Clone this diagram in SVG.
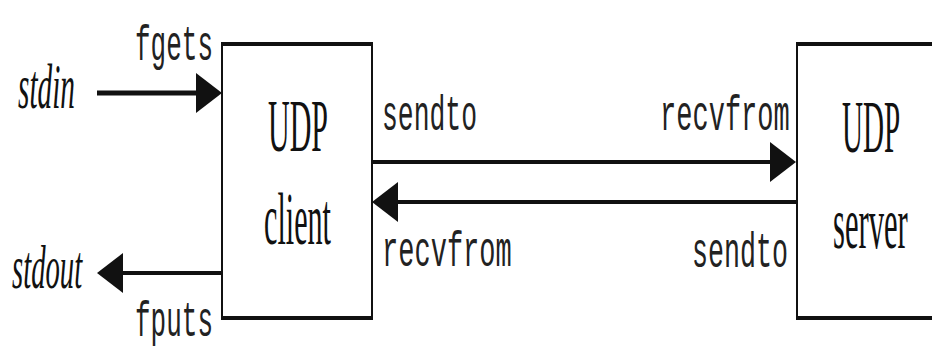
<svg xmlns="http://www.w3.org/2000/svg" width="932" height="356" viewBox="0 0 932 356">
<style>
.side{stroke:#111;stroke-width:2;fill:none}
.edge{stroke:#111;stroke-width:4;fill:none}
.mono{font-family:"Liberation Mono","DejaVu Sans Mono",monospace;font-size:26px;fill:#222}
.serif{font-family:"Liberation Serif","DejaVu Serif",serif;font-size:30px;fill:#111}
.ital{font-family:"Liberation Serif","DejaVu Serif",serif;font-style:italic;font-size:29px;fill:#111}
.conn{stroke:#111;fill:none}
</style>
<defs>
<marker id="ah" markerUnits="userSpaceOnUse" markerWidth="26" markerHeight="40" viewBox="0 0 26 40" refX="0" refY="20" orient="auto">
<path d="M0,0 L26,20 L0,40 Z" fill="#111"/>
</marker>
</defs>
<rect width="932" height="356" fill="#fff"/>
<g id="client">
<line class="side" x1="222" y1="44" x2="222" y2="318"/>
<line class="side" x1="372" y1="44" x2="372" y2="318"/>
<line class="edge" x1="221" y1="44" x2="373" y2="44"/>
<line class="edge" x1="221" y1="318" x2="373" y2="318"/>
<text class="serif" transform="translate(268,151) scale(1,2.5)">UDP</text>
<text class="serif" transform="translate(264,244) scale(1.005,2.5)">client</text>
</g>
<g id="server">
<line class="side" x1="797" y1="44" x2="797" y2="318"/>
<line class="edge" x1="796" y1="44" x2="932" y2="44"/>
<line class="edge" x1="796" y1="318" x2="932" y2="318"/>
<text class="serif" transform="translate(842,152) scale(0.97,2.5)">UDP</text>
<text class="serif" transform="translate(833,248) scale(1.02,2.5)">server</text>
</g>
<g id="stdin">
<text class="ital" transform="translate(18,108) scale(1.01,2.15)">stdin</text>
</g>
<g id="stdout">
<text class="ital" transform="translate(12,288) scale(0.99,2.15)">stdout</text>
</g>
<g id="connectors">
<path class="conn" stroke-width="5" d="M97,93 H196" marker-end="url(#ah)"/>
<path class="conn" stroke-width="4" d="M222,273 H123" marker-end="url(#ah)"/>
<path class="conn" stroke-width="4" d="M372,162 H770" marker-end="url(#ah)"/>
<path class="conn" stroke-width="4" d="M797,202 H398" marker-end="url(#ah)"/>
<text class="mono" transform="translate(135,60) scale(1,1.9)">fgets</text>
<text class="mono" transform="translate(135,336) scale(1,1.9)">fputs</text>
<text class="mono" transform="translate(382,130) scale(1.015,1.9)">sendto</text>
<text class="mono" transform="translate(660,130) scale(1.04,1.9)">recvfrom</text>
<text class="mono" transform="translate(382,266) scale(1.04,1.9)">recvfrom</text>
<text class="mono" transform="translate(692,267) scale(1.025,1.9)">sendto</text>
</g>
</svg>
